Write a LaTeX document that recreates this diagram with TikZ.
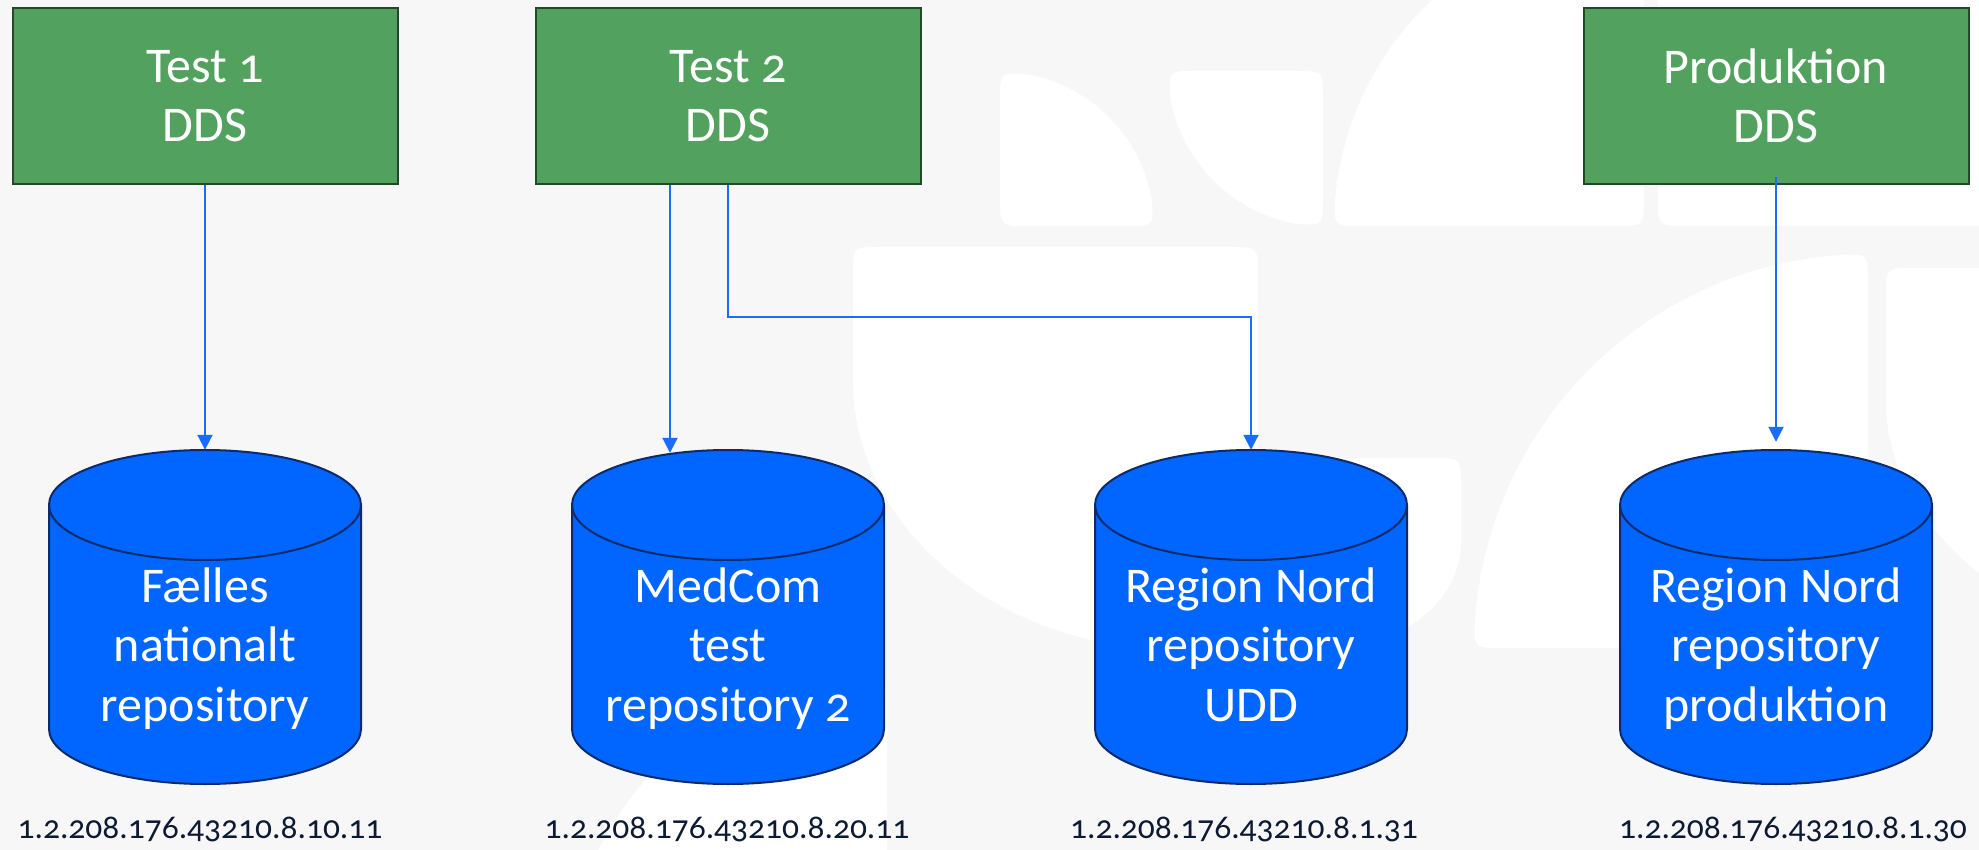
\documentclass[tikz,border=0pt]{standalone}
\usepackage{fontspec}
\setmainfont{Carlito}[Numbers=OldStyle]
\usetikzlibrary{arrows.meta}
\definecolor{bgc}{HTML}{F7F7F7}
\definecolor{boxfill}{HTML}{53A15F}
\definecolor{boxline}{HTML}{224A28}
\definecolor{cylfill}{HTML}{0066FF}
\definecolor{cylline}{HTML}{0D2B6B}
\definecolor{arrowc}{HTML}{1A6CFF}
\definecolor{labelc}{HTML}{0C1B33}
\newcommand\mytopstrut{\rule{0pt}{35pt}}
\newcommand\mybotstrut{\rule[-12pt]{0pt}{12pt}}
\newcommand\dbshape[1]{%
  \filldraw[cylbody] (#1-156,-505) -- (#1-156,-729)
    arc[start angle=180,end angle=360,x radius=156,y radius=55]
    -- (#1+156,-505)
    arc[start angle=0,end angle=180,x radius=156,y radius=55] -- cycle;
  \draw[cylbody,fill=none] (#1-156,-505)
    arc[start angle=180,end angle=360,x radius=156,y radius=55];}
\begin{document}
\begin{tikzpicture}[x=1pt,y=1pt,
  ddsbox/.style={draw=boxline, line width=2pt, fill=boxfill, minimum width=385pt,
    minimum height=176pt, inner sep=0pt, text=white, align=center,
    font=\fontsize{50}{59}\selectfont},
  cylnode/.style={minimum width=312pt, minimum height=334pt, inner sep=0pt},
  cylbody/.style={draw=cylline, fill=cylfill, line width=2pt},
  cyltext/.style={text=white, align=center, inner sep=0pt,
    font=\fontsize{50}{59.5}\selectfont},
  oidlabel/.style={text=labelc, font=\fontsize{33.5}{40}\selectfont, anchor=base, inner sep=0pt},
  link/.style={draw=arrowc, line width=2pt, -{Triangle[width=15pt,length=15pt]}},
  logo/.style={fill=white}
]
\fill[bgc] (0,0) rectangle (1979,-850);
\useasboundingbox (0,0) rectangle (1979,-850);
\begin{scope}
\clip (0,0) rectangle (1979,-850);
% watermark shapes
\fill[logo] (1000,-198) -- (1000,-100) .. controls (1000,-72) .. (1027.8,-74.5)
  arc[start angle=79.6, end angle=10.4, radius=154]
  .. controls (1154,-226) .. (1126,-226) -- (1028,-226)
  .. controls (1000,-226) .. (1000,-198) -- cycle;
\fill[logo] (1196,-71) -- (1295,-71) .. controls (1323,-71) .. (1323,-99) -- (1323,-198)
  .. controls (1323,-226) .. (1295.2,-223.5)
  arc[start angle=259.65, end angle=190.35, radius=155]
  .. controls (1168,-71) .. (1196,-71) -- cycle;
\fill[logo] (1644,-198) -- (1644,10) -- (1443,10)
  arc[start angle=130.4, end angle=174.83, radius=310]
  .. controls (1334,-226) .. (1362,-226) -- (1616,-226)
  .. controls (1644,-226) .. (1644,-198) -- cycle;
\fill[logo] (1658,10) -- (1658,-198) .. controls (1658,-226) .. (1686,-226)
  -- (1990,-226) -- (1990,10) -- cycle;
\fill[logo] (853,-275) .. controls (853,-247) .. (881,-247) -- (1230,-247)
  .. controls (1258,-247) .. (1258,-275) -- (1258,-650) -- (1180,-650)
  arc[start angle=270, end angle=180, x radius=327, y radius=270] -- cycle;
\fill[logo] (1240,-458) -- (1433,-458) .. controls (1461,-458) .. (1461,-486)
  -- (1461,-542) arc[start angle=0, end angle=-90, x radius=131, y radius=106]
  -- (1240,-648) -- cycle;
\fill[logo] (1868,-282) -- (1868,-620) .. controls (1868,-648) .. (1840,-648)
  -- (1502,-648) .. controls (1474,-648) .. (1475,-620)
  arc[start angle=175.93, end angle=94.07, radius=394]
  .. controls (1868,-254) .. (1868,-282) -- cycle;
\fill[logo] (1886,-296) .. controls (1886,-268) .. (1914,-268) -- (2300,-268)
  -- (2300,-671) -- (2291,-671)
  arc[start angle=270, end angle=180, x radius=405, y radius=270] -- cycle;
\fill[logo] (887,-870) -- (887,-699) .. controls (887,-671) .. (858.9,-672.2)
  arc[start angle=95, end angle=155.6, radius=322] -- cycle;
\end{scope}

% DDS boxes
\node[ddsbox] (b1) at (205,-96) {Test 1\\DDS};
\node[ddsbox] (b2) at (728,-96) {Test 2\\DDS};
\node[ddsbox] (b3) at (1776,-96) {Produktion\\DDS};

% repositories
\dbshape{205}
\dbshape{728}
\dbshape{1251}
\dbshape{1776}
\node[cylnode] (c1) at (205,-617) {};
\node[cylnode] (c2) at (728,-617) {};
\node[cylnode] (c3) at (1251,-617) {};
\node[cylnode] (c4) at (1776,-617) {};
\node[cyltext] (t1) at (205,-650) {\mytopstrut Fælles\\nationalt\\repository\mybotstrut};
\node[cyltext] (t2) at (728,-650) {\mytopstrut MedCom\\test\\repository 2\mybotstrut};
\node[cyltext] (t3) at (1251,-650) {\mytopstrut Region Nord\\repository\\UDD\mybotstrut};
\node[cyltext] (t4) at (1776,-650) {\mytopstrut Region Nord\\repository\\produktion\mybotstrut};

% OIDs
\node[oidlabel] (o1) at (200,-838) {1.2.208.176.43210.8.10.11};
\node[oidlabel] (o2) at (727,-838) {1.2.208.176.43210.8.20.11};
\node[oidlabel] (o3) at (1244,-838) {1.2.208.176.43210.8.1.31};
\node[oidlabel] (o4) at (1793,-838) {1.2.208.176.43210.8.1.30};

% connectors
\coordinate (c2in) at ([xshift=-58pt,yshift=-3pt]c2.north);
\coordinate (bendpt) at (1251,-317);
\draw[link] (b1.south) -- (c1.north);
\draw[link] (b2.south -| c2in) -- (c2in);
\draw[link] (b2.south) |- (bendpt) -- (c3.north);
\draw[link, shorten >=8pt] ([yshift=8pt]b3.south) -- (c4.north);
\end{tikzpicture}
\end{document}
